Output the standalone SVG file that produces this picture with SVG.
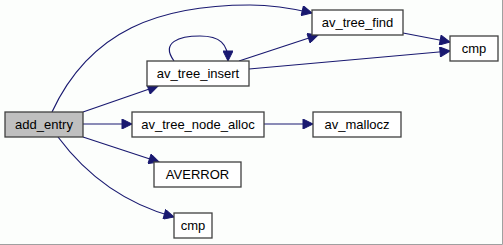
<svg xmlns="http://www.w3.org/2000/svg" width="503" height="245" viewBox="0 0 503 245">
  <style>
    .box { fill: #ffffff; stroke: #404040; stroke-width: 1.3; }
    .root { fill: #bfbfbf; }
    .lbl { font-family: "Liberation Sans", Arial, sans-serif; font-size: 13px; fill: #000; text-anchor: middle; }
    .edge { fill: none; stroke: #191970; stroke-width: 1.2; }
  </style>
  <defs>
    <marker id="arrow" viewBox="0 0 10 10" refX="10" refY="5" markerWidth="12" markerHeight="10" markerUnits="userSpaceOnUse" orient="auto">
      <path d="M0,0 L10,5 L0,10 Z" fill="#191970" stroke="#191970"/>
    </marker>
  </defs>
  <rect x="0" y="0" width="503" height="245" fill="#fcfefc"/>
  <path d="M502.5,0 V244.5 H0" fill="none" stroke="#a0a0a0"/>

  <g id="edges">
    <path class="edge" marker-end="url(#arrow)" d="M52,112 C90,30 160,5 250,5 C275,5 295,9 312,13"/>
    <path class="edge" marker-end="url(#arrow)" d="M83,112 L158,86"/>
    <path class="edge" marker-end="url(#arrow)" d="M174,61 C160,42 180,36 200,36 C220,36 228,44 228,61"/>
    <path class="edge" marker-end="url(#arrow)" d="M239,61 L318,35"/>
    <path class="edge" marker-end="url(#arrow)" d="M249,69 L450,51"/>
    <path class="edge" marker-end="url(#arrow)" d="M403,33 L450,42"/>
    <path class="edge" marker-end="url(#arrow)" d="M83,124 L132,124"/>
    <path class="edge" marker-end="url(#arrow)" d="M264,124 L313,124"/>
    <path class="edge" marker-end="url(#arrow)" d="M83,137 L159,162"/>
    <path class="edge" marker-end="url(#arrow)" d="M58,137 C90,180 130,205 174,217"/>
  </g>

  <g id="add_entry">
    <rect class="box root" x="5" y="112" width="78" height="25"/>
    <text class="lbl" x="44" y="129">add_entry</text>
  </g>
  <g id="av_tree_insert">
    <rect class="box" x="147" y="61" width="102" height="25"/>
    <text class="lbl" x="198" y="78">av_tree_insert</text>
  </g>
  <g id="av_tree_find">
    <rect class="box" x="312" y="10" width="91" height="25"/>
    <text class="lbl" x="357.5" y="27">av_tree_find</text>
  </g>
  <g id="cmp_top">
    <rect class="box" x="450" y="36" width="48" height="25"/>
    <text class="lbl" x="474" y="53">cmp</text>
  </g>
  <g id="av_tree_node_alloc">
    <rect class="box" x="132" y="112" width="132" height="25"/>
    <text class="lbl" x="198" y="129">av_tree_node_alloc</text>
  </g>
  <g id="av_mallocz">
    <rect class="box" x="313" y="112" width="88" height="25"/>
    <text class="lbl" x="357" y="129">av_mallocz</text>
  </g>
  <g id="AVERROR">
    <rect class="box" x="154" y="162" width="87" height="25"/>
    <text class="lbl" x="197.5" y="179">AVERROR</text>
  </g>
  <g id="cmp_bottom">
    <rect class="box" x="174" y="213" width="38" height="25"/>
    <text class="lbl" x="193" y="230">cmp</text>
  </g>
</svg>
